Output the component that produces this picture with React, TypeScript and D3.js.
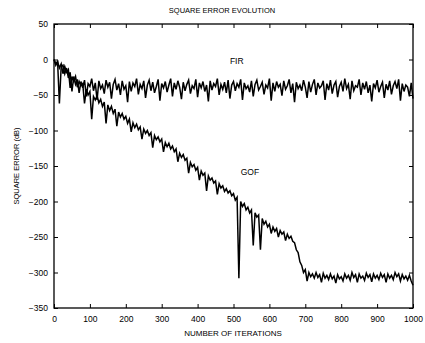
import * as React from 'react';
import * as d3 from 'd3';

// values, one every 5 iterations (0..1000)
const step = 5;
const firValues = [
  0, -6, -3, -62, -10, -8, -20, -12, -26, -18,
  -45, -24, -35, -28, -47, -31, -40, -29, -52, -34,
  -38, -27, -44, -33, -57, -30, -41, -36, -48, -29,
  -39, -32, -55, -35, -28, -43, -34, -50, -30, -42,
  -37, -60, -31, -45, -33, -38, -27, -49, -35, -41,
  -30, -54, -36, -29, -44, -32, -47, -38, -28, -58,
  -34, -40, -31, -46, -36, -27, -52, -33, -42, -30,
  -39, -56, -32, -44, -35, -29, -48, -37, -41, -28,
  -53, -33, -40, -31, -45, -36, -59, -30, -43, -34,
  -38, -27, -50, -35, -42, -32, -47, -29, -55, -36,
  -31, -44, -34, -39, -28, -57, -33, -41, -37, -46,
  -30, -52, -35, -29, -43, -38, -32, -49, -36, -40,
  -27, -58, -33, -45, -31, -39, -35, -51, -30, -42,
  -37, -28, -47, -34, -60, -32, -41, -36, -44, -29,
  -39, -54, -31, -46, -35, -28, -50, -33, -40, -37,
  -30, -57, -34, -43, -29, -48, -36, -31, -53, -38,
  -32, -45, -27, -41, -35, -56, -30, -44, -37, -39,
  -28, -50, -33, -42, -31, -47, -36, -59, -34, -40,
  -29, -46, -38, -32, -54, -35, -43, -30, -49, -37,
  -31, -41, -28, -58, -34, -45, -36, -39, -52, -33,
  -55,
];
const gofValues = [
  0, -8, -3, -12, -6, -20, -10, -18, -14, -40,
  -24, -31, -24, -39, -31, -37, -34, -62, -42, -50,
  -45, -84, -52, -57, -51, -61, -56, -66, -60, -90,
  -64, -72, -66, -76, -70, -94, -74, -81, -76, -84,
  -80, -90, -84, -102, -89, -96, -91, -99, -95, -112,
  -98, -104, -100, -107, -103, -124, -107, -113, -109, -116,
  -112, -130, -117, -123, -118, -126, -122, -130, -126, -144,
  -132, -138, -134, -142, -139, -160, -145, -151, -148, -156,
  -152, -170, -157, -163, -160, -185, -164, -170, -167, -174,
  -171, -190, -175, -181, -178, -186, -182, -188, -185, -192,
  -189, -198, -194, -308, -200, -207, -203, -212, -208, -216,
  -212, -262, -216, -222, -219, -268, -224, -232, -228, -236,
  -232, -245, -236, -242, -238, -250, -241, -246, -243, -255,
  -246, -252, -249, -256, -258, -268, -272, -285, -290, -300,
  -296, -312, -300, -306, -302, -308, -300, -307, -303, -314,
  -301, -308, -304, -310, -302, -309, -305, -315, -303, -309,
  -306, -312, -302, -308, -304, -311, -300, -307, -303, -314,
  -302, -308, -305, -311, -301, -307, -303, -313, -302, -308,
  -304, -310, -301, -307, -303, -314, -302, -308, -304, -310,
  -300, -306, -302, -312, -303, -309, -305, -311, -304, -312,
  -318,
];
const xTicks = [0, 100, 200, 300, 400, 500, 600, 700, 800, 900, 1000];
const yTicks = [50, 0, -50, -100, -150, -200, -250, -300, -350];

export default function App() {
  const ref = React.useRef<SVGSVGElement>(null);

  React.useEffect(() => {
    const svg = d3.select(ref.current);
    svg.selectAll('*').remove();
    const left = 54, right = 413, top = 24, bottom = 308;
    const font = 'Liberation Sans, Arial, sans-serif';

    const x = d3.scaleLinear().domain([0, 1000]).range([left, right]);
    const y = d3.scaleLinear().domain([-350, 50]).range([bottom, top]);

    // series
    const line = d3.line<number>()
      .x((d, i) => x(i * step))
      .y(d => y(d));
    svg.append('path').datum(firValues)
      .attr('d', line).attr('fill', 'none')
      .attr('stroke', '#000').attr('stroke-width', 1.5);
    svg.append('path').datum(gofValues)
      .attr('d', line).attr('fill', 'none')
      .attr('stroke', '#000').attr('stroke-width', 1.5);

    // box + inner ticks (matlab style)
    svg.append('rect')
      .attr('x', left).attr('y', top)
      .attr('width', right - left).attr('height', bottom - top)
      .attr('fill', 'none').attr('stroke', '#000').attr('stroke-width', 1.3);

    const fmt = d3.format('d');
    const bottomAxis = d3.axisBottom(x).tickValues(xTicks).tickFormat(fmt).tickSizeInner(-4).tickSizeOuter(0).tickPadding(8);
    const gx = svg.append('g').attr('transform', `translate(0,${bottom})`).call(bottomAxis);
    const topAxis = d3.axisTop(x).tickValues(xTicks).tickSizeInner(-4).tickSizeOuter(0).tickFormat(() => '');
    const gxt = svg.append('g').attr('transform', `translate(0,${top})`).call(topAxis);
    const leftAxis = d3.axisLeft(y).tickValues(yTicks).tickFormat(fmt).tickSizeInner(-4).tickSizeOuter(0).tickPadding(6);
    const gy = svg.append('g').attr('transform', `translate(${left},0)`).call(leftAxis);
    const rightAxis = d3.axisRight(y).tickValues(yTicks).tickSizeInner(-4).tickSizeOuter(0).tickFormat(() => '');
    const gyr = svg.append('g').attr('transform', `translate(${right},0)`).call(rightAxis);

    [gx, gxt, gy, gyr].forEach(g => {
      g.select('.domain').remove();
      g.selectAll('line').attr('stroke', '#000');
      g.selectAll('text').attr('font-family', font).attr('font-size', 8.5).attr('fill', '#000');
    });

    svg.append('text')
      .attr('x', 222).attr('y', 13)
      .attr('text-anchor', 'middle')
      .attr('font-family', font).attr('font-size', 7.5)
      .text('SQUARE ERROR EVOLUTION');
    svg.append('text')
      .attr('x', 233).attr('y', 336)
      .attr('text-anchor', 'middle')
      .attr('font-family', font).attr('font-size', 8)
      .text('NUMBER OF ITERATIONS');
    svg.append('text')
      .attr('transform', `translate(19,${(top + bottom) / 2}) rotate(-90)`)
      .attr('text-anchor', 'middle')
      .attr('font-family', font).attr('font-size', 7.5)
      .text('SQUARE ERROR (dB)');

    svg.append('text')
      .attr('x', x(490)).attr('y', y(-7))
      .attr('font-family', font).attr('font-size', 8.5)
      .text('FIR');
    svg.append('text')
      .attr('x', x(520)).attr('y', y(-162))
      .attr('font-family', font).attr('font-size', 8.5)
      .text('GOF');
  }, []);

  return (
    <svg ref={ref} width={425} height={343}
      style={{position: 'absolute', left: 0, top: 0, background: '#fff'}} />
  );
}
